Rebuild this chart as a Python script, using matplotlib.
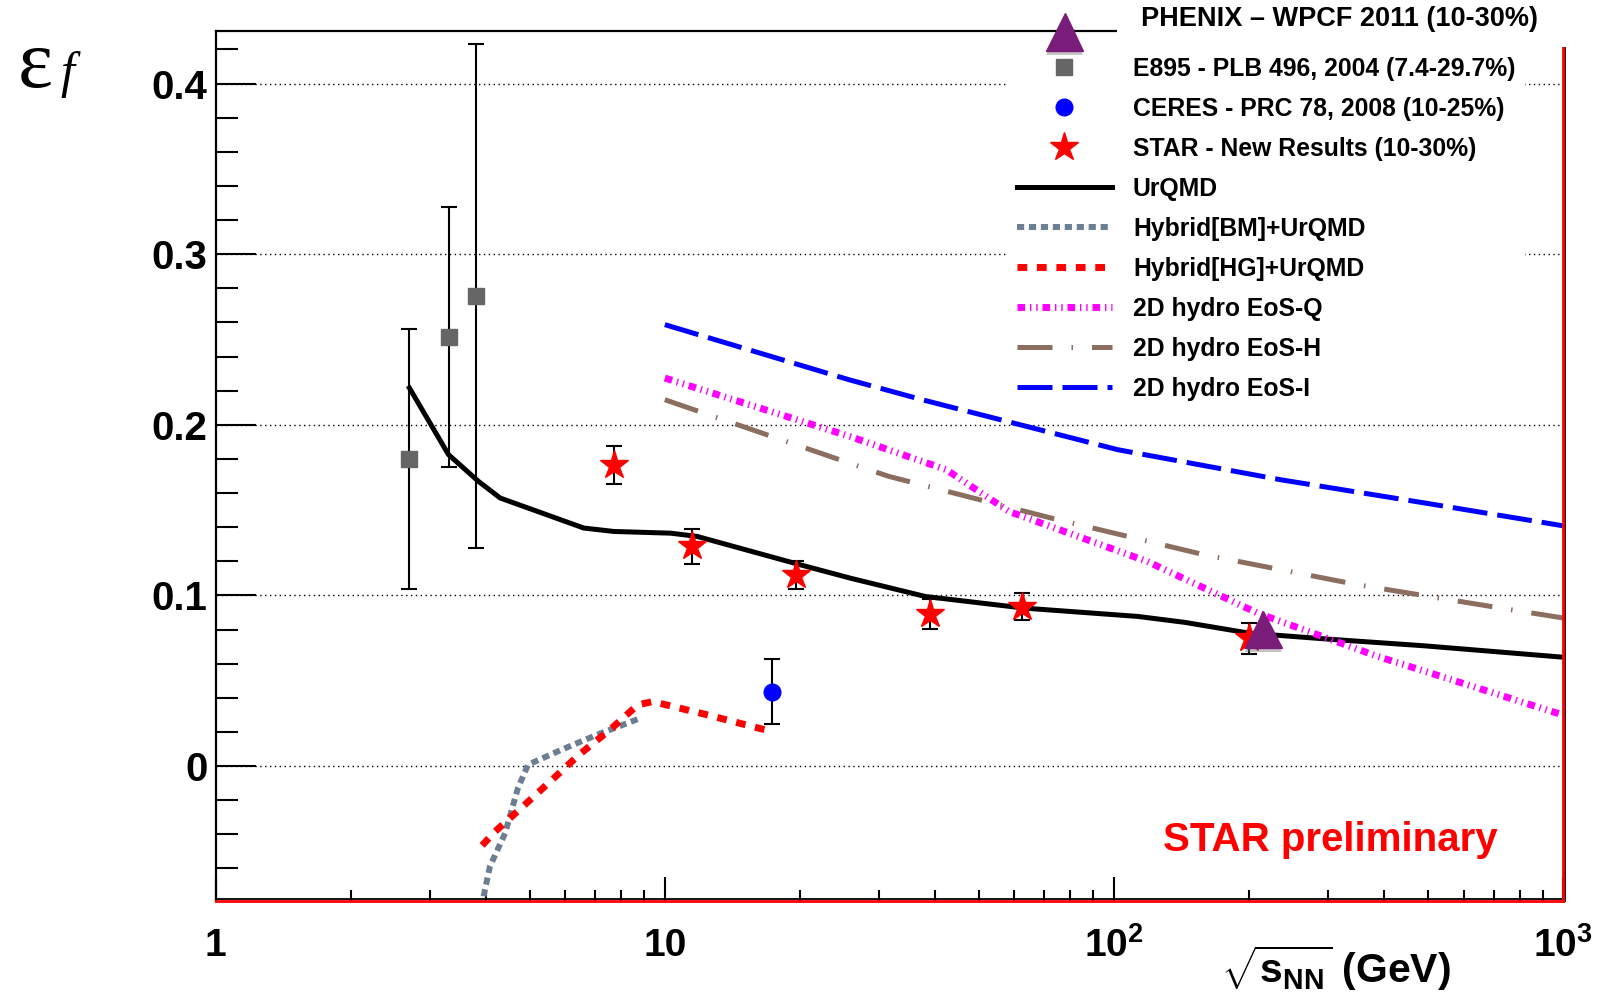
import numpy as np
import matplotlib
matplotlib.use('Agg')
import matplotlib.pyplot as plt
import matplotlib.patheffects as pe
import matplotlib.transforms as mtransforms
from matplotlib.lines import Line2D
from matplotlib.patches import Rectangle
from matplotlib.ticker import FixedLocator, LogLocator, NullFormatter

plt.rcParams['font.family'] = ['Liberation Sans', 'DejaVu Sans']
plt.rcParams['font.weight'] = 'bold'
plt.rcParams['mathtext.fontset'] = 'custom'
plt.rcParams['mathtext.rm'] = 'Liberation Sans:bold'
plt.rcParams['mathtext.bf'] = 'Liberation Sans:bold'
plt.rcParams['mathtext.it'] = 'Liberation Sans:italic:bold'

# ---- measurements ----
e895_x = [2.7, 3.3, 3.8]
e895_y = [0.180, 0.2515, 0.2754]
e895_err = [0.076, 0.076, 0.1476]

ceres_x = [17.3]
ceres_y = [0.0437]
ceres_err = [0.019]

star_x = [7.7, 11.5, 19.6, 39.0, 62.4, 200.0]
star_y = [0.1766, 0.1287, 0.1120, 0.0892, 0.0934, 0.0748]
star_err = [0.011, 0.010, 0.008, 0.009, 0.008, 0.009]

phenix_x = [215.0]
phenix_y = [0.080]

# ---- model curves ----
urqmd_x = [2.7, 3.3, 3.85, 4.3, 6.6, 7.7, 10.3, 11.8, 20, 26, 38, 63, 113, 144, 200, 300, 490, 1000]
urqmd_y = [0.2216, 0.1825, 0.1668, 0.1571, 0.1395, 0.1375, 0.1365, 0.1346, 0.118, 0.110,
           0.0994, 0.0926, 0.0877, 0.0842, 0.0779, 0.0744, 0.0705, 0.0638]

bm_x = [3.85, 4.08, 4.41, 4.71, 4.96, 5.89, 7.07, 8.82]
bm_y = [-0.09, -0.0588, -0.0393, -0.0129, 0.0008, 0.0096, 0.0184, 0.0281]

hg_x = [3.92, 4.19, 4.83, 5.58, 6.44, 7.55, 8.71, 9.4, 12.4, 16.7, 17.3]
hg_y = [-0.0465, -0.0383, -0.0237, -0.0086, 0.0066, 0.0213, 0.0359, 0.0378, 0.0301, 0.0213, 0.021]

eosq_x = [10, 25.8, 42.3, 58.4, 118.6, 209, 386, 1000]
eosq_y = [0.2274, 0.1932, 0.1737, 0.1492, 0.1199, 0.0896, 0.0643, 0.0299]

eosh_x = [10, 25.8, 31.5, 72.6, 159, 350, 766, 1000]
eosh_y = [0.2147, 0.1775, 0.1698, 0.1453, 0.1238, 0.1062, 0.0916, 0.0868]

eosi_x = [10, 25.8, 37.4, 102, 235, 494, 1000]
eosi_y = [0.2587, 0.2263, 0.2147, 0.1854, 0.1678, 0.1541, 0.1408]

y_ticks = [0, 0.1, 0.2, 0.3, 0.4]
y_labels = ['0', '0.1', '0.2', '0.3', '0.4']
x_ticks = [1, 10, 100, 1000]
x_labels = ['1', '10', r'$\mathbf{10^{2}}$', r'$\mathbf{10^{3}}$']

# ---- styles ----
c_bm = '#6c7f92'
c_eosh = '#8b6e5f'
c_phenix = '#7a1c7a'
styles = {
    'urqmd': dict(color='black', lw=3.6),
    'bm': dict(color=c_bm, lw=4.3, dashes=(1.2, 0.8)),
    'hg': dict(color='red', lw=5.0, dashes=(1.4, 1.4)),
    'eosq': dict(color='magenta', lw=5.0, dashes=(1.1, 0.7, 0.2, 0.7, 0.2, 0.7)),
    'eosh': dict(color=c_eosh, lw=3.6, dashes=(7, 3.8, 0.3, 3.8)),
    'eosi': dict(color='blue', lw=3.6, dashes=(7, 2)),
}
shadow = [pe.SimplePatchShadow(offset=(0, -3), shadow_rgbFace='gray', alpha=0.45), pe.Normal()]

fig = plt.figure(figsize=(16.02, 10.01), dpi=100)
ax = fig.add_axes([0.1346, 0.1, 0.8412, 0.8694])
ax.set_xscale('log')
ax.set_xlim(1, 1000)
ax.set_ylim(-0.079, 0.431)

ax.plot(urqmd_x, urqmd_y, **styles['urqmd'])
ax.plot(bm_x, bm_y, **styles['bm'])
ax.plot(hg_x, hg_y, **styles['hg'])
ax.plot(eosq_x, eosq_y, **styles['eosq'])
ax.plot(eosh_x, eosh_y, **styles['eosh'])
ax.plot(eosi_x, eosi_y, **styles['eosi'])

eb = dict(ecolor='black', elinewidth=1.5, capsize=6, capthick=1.5, ls='none')
ax.errorbar(e895_x, e895_y, yerr=e895_err, marker='s', ms=11, color='#666666', **eb)
ax.errorbar(ceres_x, ceres_y, yerr=ceres_err, marker='o', ms=12, color='blue', **eb)
ax.errorbar(star_x, star_y, yerr=star_err, marker='*', ms=21, color='red', **eb)
ax.plot(phenix_x, phenix_y, ls='none', marker='^', ms=27, color=c_phenix,
        path_effects=shadow, zorder=4)

# axes frame and ticks
ax.yaxis.set_major_locator(FixedLocator(y_ticks))
ax.yaxis.set_minor_locator(FixedLocator(np.arange(-0.06, 0.43, 0.02)))
ax.set_yticklabels(y_labels)
ax.set_xticks(x_ticks, labels=x_labels)
ax.xaxis.set_minor_locator(LogLocator(base=10, subs=np.arange(2, 10)))
ax.xaxis.set_minor_formatter(NullFormatter())
ax.tick_params(axis='y', which='major', direction='in', length=29, width=1.5,
               labelsize=29, pad=6, right=False)
ax.tick_params(axis='y', which='minor', direction='in', length=16, width=1.5, right=False)
ax.tick_params(axis='x', which='major', direction='in', length=17, width=1.5,
               labelsize=28, pad=40, top=False)
ax.tick_params(axis='x', which='minor', direction='in', length=8, width=1.5, top=False)
for lbl in ax.get_xticklabels():
    lbl.set_verticalalignment('baseline')

ax.grid(axis='y', which='major', color='black', ls=(0, (1, 2.5)), lw=1)
ax.set_axisbelow(True)

for s in ['left', 'top']:
    ax.spines[s].set_linewidth(1.6)
for s in ['bottom', 'right']:
    ax.spines[s].set_color('red')
    ax.spines[s].set_linewidth(2)
off_up = ax.transAxes + mtransforms.ScaledTranslation(0, 1.6 / 72, fig.dpi_scale_trans)
off_right = ax.transAxes + mtransforms.ScaledTranslation(1.6 / 72, 0, fig.dpi_scale_trans)
ax.plot([0, 1], [0, 0], color='black', lw=1.3, transform=off_up, clip_on=False)
ax.plot([1, 1], [0, 1], color='black', lw=1.3, transform=off_right, clip_on=False)

ax.set_xlabel(r'$\sqrt{\mathbf{s}_{\mathbf{NN}}}$ (GeV)', fontsize=29.5, fontweight='bold',
              ha='right', va='baseline')
ax.xaxis.set_label_coords(0.917, -0.094)
fig.text(0.011, 0.913, 'ε', family='Liberation Serif', fontsize=60, fontweight='normal')
fig.text(0.038, 0.913, 'f', family='Liberation Serif', fontsize=36, fontweight='normal',
         style='italic')

ax.text(0.827, 0.0704, 'STAR preliminary', color='red', fontsize=29, ha='center',
        va='center', transform=ax.transAxes)

# legend
handles = [
    Line2D([], [], ls='none', marker='s', ms=11, color='#666666'),
    Line2D([], [], ls='none', marker='o', ms=12, color='blue'),
    Line2D([], [], ls='none', marker='*', ms=21, color='red'),
    Line2D([], [], **styles['urqmd']),
    Line2D([], [], **styles['bm']),
    Line2D([], [], **styles['hg']),
    Line2D([], [], **styles['eosq']),
    Line2D([], [], **styles['eosh']),
    Line2D([], [], **styles['eosi']),
]
labels = ['E895 - PLB 496, 2004 (7.4-29.7%)', 'CERES - PRC 78, 2008 (10-25%)',
          'STAR - New Results (10-30%)', 'UrQMD', 'Hybrid[BM]+UrQMD', 'Hybrid[HG]+UrQMD',
          '2D hydro EoS-Q', '2D hydro EoS-H', '2D hydro EoS-I']
leg = ax.legend(handles, labels, loc='upper left', bbox_to_anchor=(0.6285, 0.953),
                bbox_transform=fig.transFigure, frameon=True, fancybox=False,
                edgecolor='none', facecolor='white', framealpha=1, fontsize=17.8,
                handlelength=3.85, handletextpad=0.85, labelspacing=0.645,
                borderpad=0.4, borderaxespad=0)

# PHENIX header over the top-right corner of the frame
fig.add_artist(Rectangle((0.697, 0.953), 0.31, 0.05, transform=fig.transFigure,
                         facecolor='white', edgecolor='none', zorder=10))
fig.text(0.712, 0.981, 'PHENIX – WPCF 2011 (10-30%)', fontsize=19.5, va='center',
         zorder=11)
fig.add_artist(Line2D([0.6645], [0.968], transform=fig.transFigure, ls='none', marker='^',
                      ms=27, color=c_phenix, path_effects=shadow, zorder=11))

fig.savefig('out.png', dpi=100)
